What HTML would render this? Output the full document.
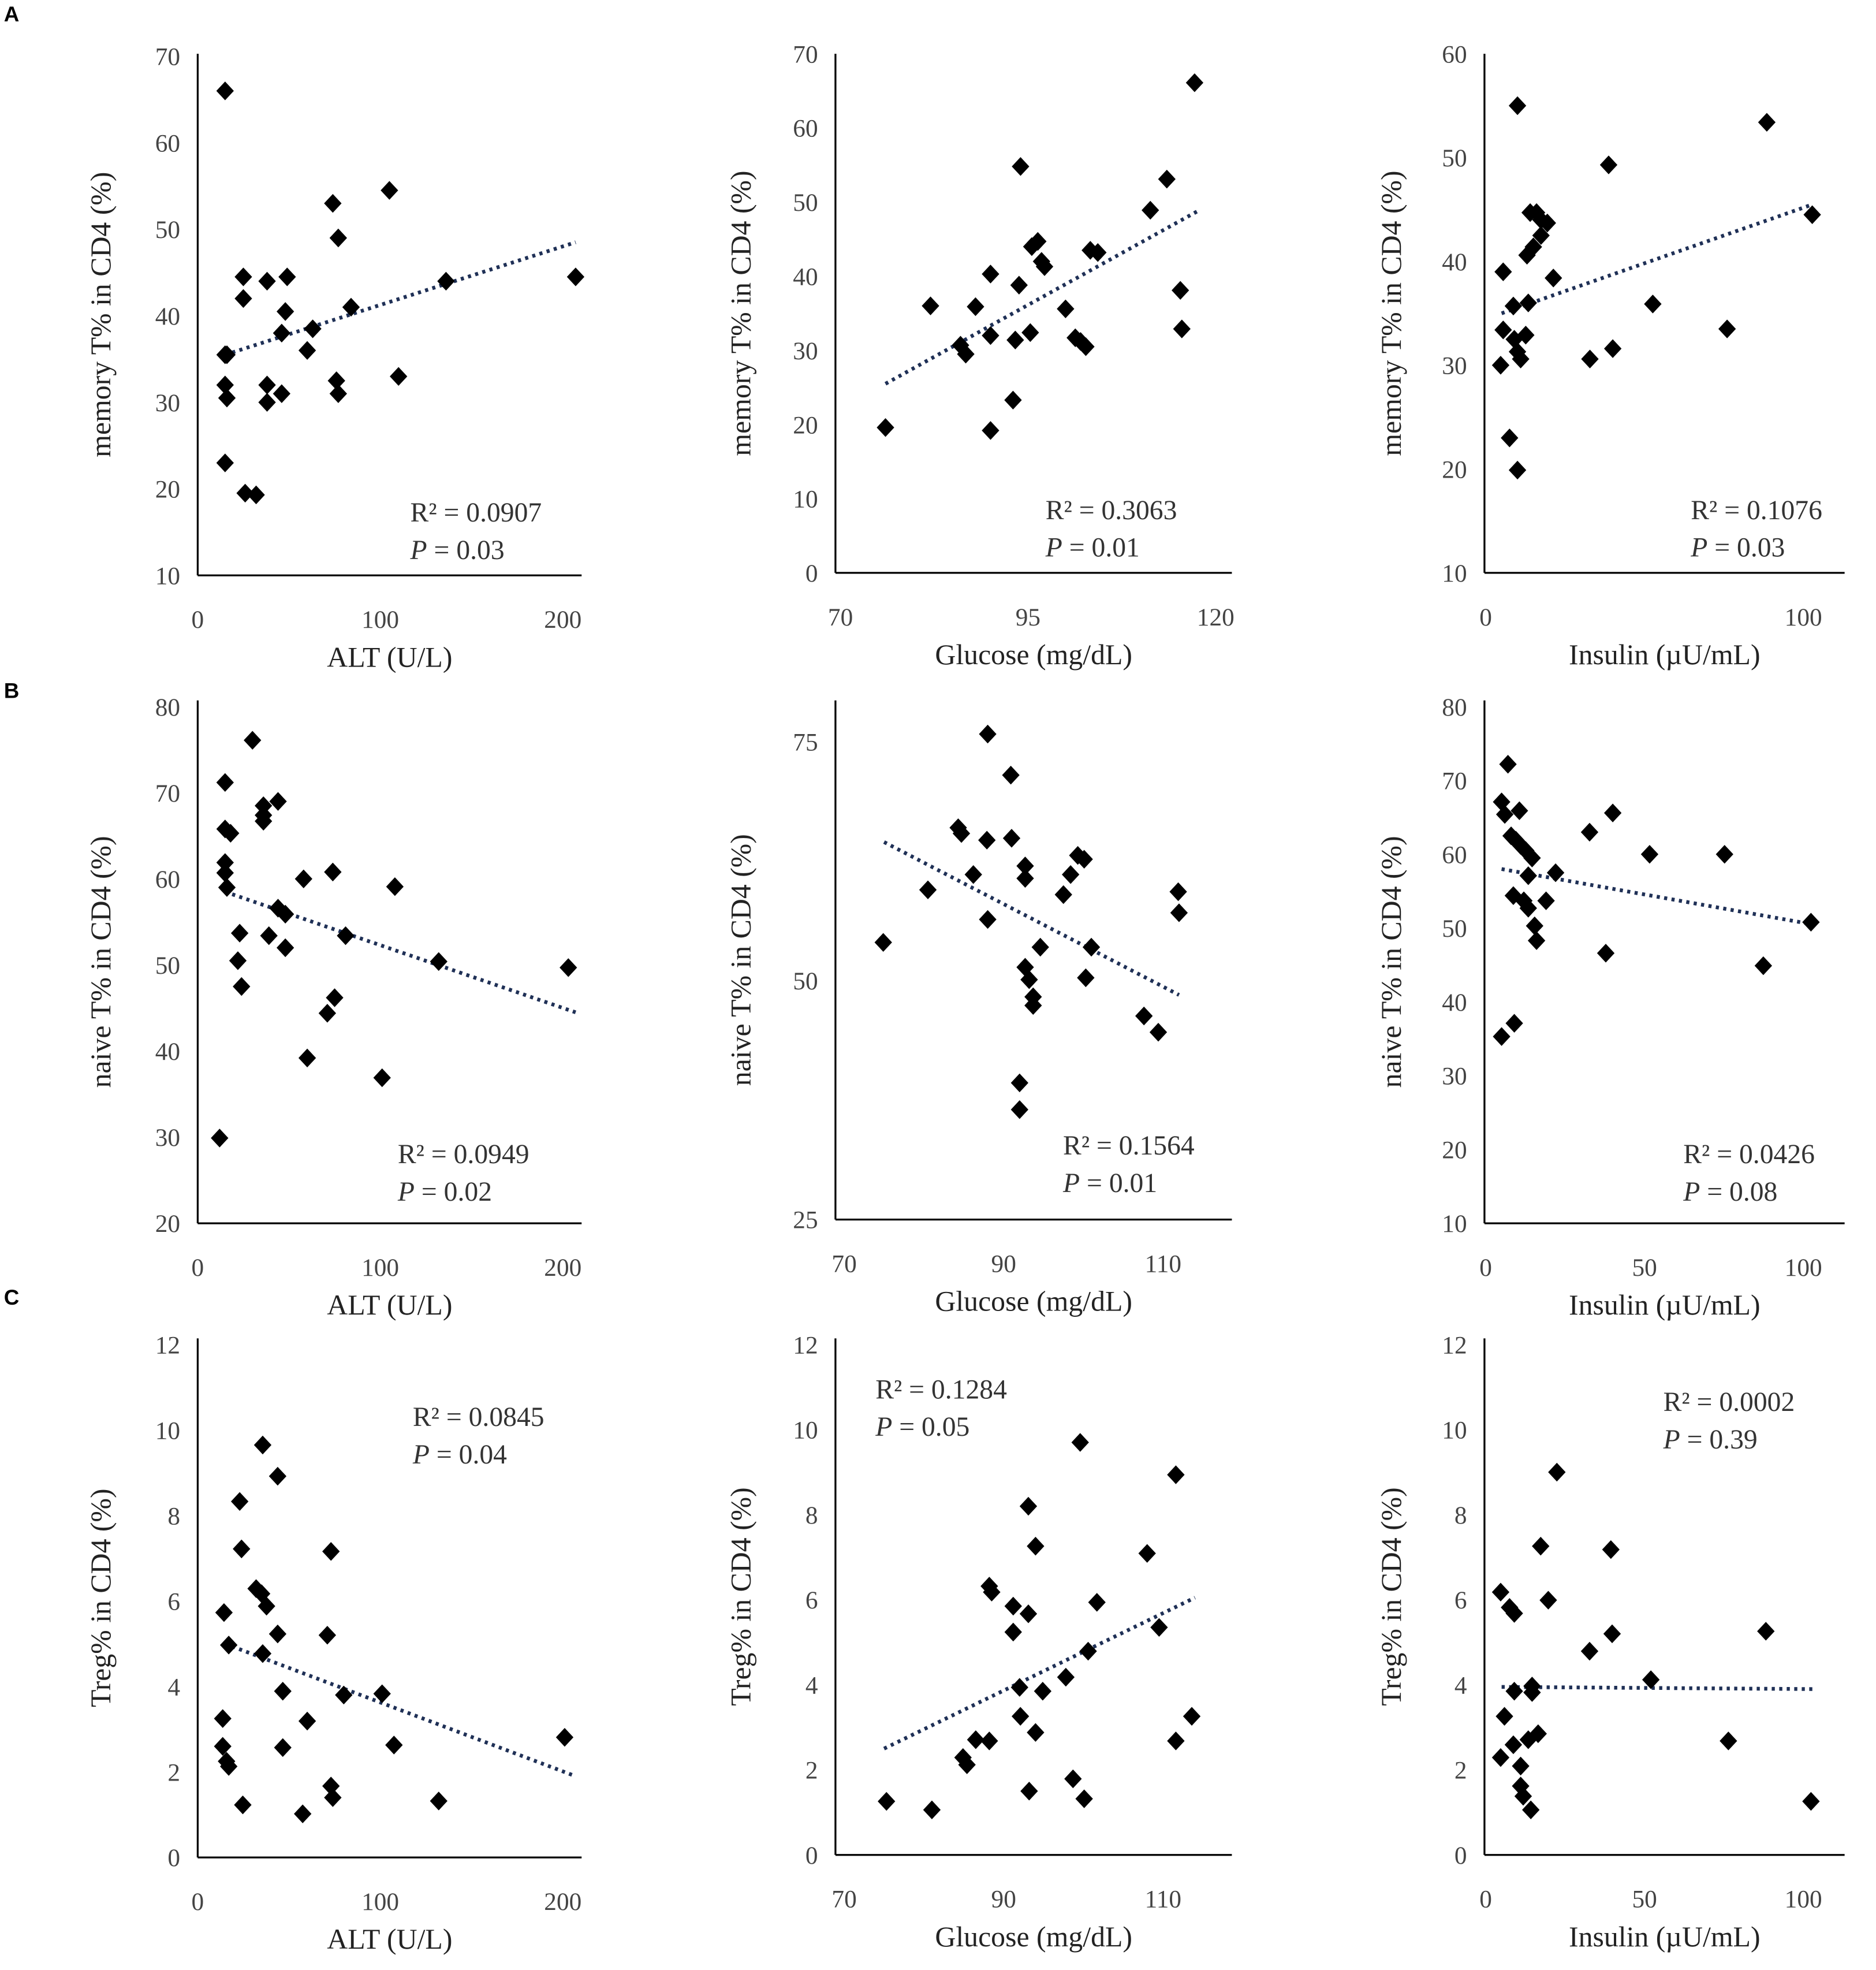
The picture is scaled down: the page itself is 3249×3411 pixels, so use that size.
<!DOCTYPE html>
<html><head><meta charset="utf-8"><style>
html,body{margin:0;padding:0;background:#fff}
svg{display:block}
text{font-family:"Liberation Serif",serif;fill:#222}
.tick{font-size:20px;fill:#444}
.title{font-size:23px}
.ann{font-size:22px;fill:#333}
.lab{font-family:"Liberation Sans",sans-serif;font-weight:bold;font-size:17px;fill:#000}
</style></head><body>
<svg id="fig" width="3249" height="3411" viewBox="0 0 1500 1575" xmlns="http://www.w3.org/2000/svg">
<text class="lab" x="3" y="17">A</text>
<text class="lab" x="3" y="558">B</text>
<text class="lab" x="3" y="1043">C</text>
</svg>
<script>
// data per panel
const a1X=[15,15,16,15,16,15,25,25,26,32,38,38,38,46,49,48,46,60,63,74,77,76,77,84,105,110,136,207];
const a1Y=[66,35.5,35.5,32,30.5,23,42,44.5,19.5,19.3,44,32,30,31,44.5,40.5,38,36,38.5,53,49,32.5,31,41,54.5,33,44,44.5];
const a2X=[76,82,86,86.7,88,90,90,90,93,93.3,93.8,94,95.3,95.5,96.3,96.8,97.2,100,101.3,102,102.7,103.3,104.3,111.3,113.5,115.3,115.5,117.2];
const a2Y=[19.6,36,30.7,29.5,35.9,40.3,32,19.2,23.3,31.4,38.8,54.8,32.4,44,44.7,42,41.3,35.6,31.7,31.2,30.5,43.5,43.2,48.9,53.1,38.1,32.9,66.1];
const a3X=[10,5.5,5.5,4.7,7.5,10,8.7,9,10,11,12.6,13.4,13,15,14,16,17.4,17.4,19.4,21.3,32.8,38.7,40,52.6,76,88.5,102.8];
const a3Y=[55,39,33.4,30,23,19.9,35.7,32.5,31.3,30.6,32.9,36,40.6,41.4,44.7,44.7,42.5,44,43.7,38.4,30.6,49.3,31.6,35.9,33.5,53.4,44.5];
const b1X=[12,15,15,18,15,15,16,30,23,22,24,36,36,36,44,44,48,48,39,58,60,74,75,71,81,101,108,132,203];
const b1Y=[29.9,71.2,65.8,65.3,61.9,60.7,59,76.1,53.7,50.5,47.5,68.5,67.4,66.7,69,56.6,55.9,52,53.4,60,39.2,60.8,46.2,44.4,53.4,36.9,59.1,50.4,49.7];
const b2X=[74.9,80.5,84.3,84.7,86.2,88,87.9,88,90.9,91,92.7,92.7,92,92,92.7,93.2,93.7,93.7,94.6,97.5,98.4,99.3,100.1,100.3,101,107.6,109.4,111.9,112];
const b2Y=[54,59.5,66,65.4,61.1,75.8,64.7,56.4,71.5,64.9,62,60.7,39.3,36.5,51.4,50.1,48.3,47.4,53.5,59,61.1,63.1,62.7,50.3,53.5,46.3,44.6,59.3,57.1];
const b3X=[7,5,6,10.6,8,9.5,11,12.6,14.6,13.4,8.7,12,13.4,15.4,16,19,22,5,9,32.7,40,37.8,51.6,75.2,87.4,102.4];
const b3Y=[72.2,67.1,65.4,65.9,62.5,61.9,61.2,60.5,59.5,57.1,54.4,53.7,52.7,50.3,48.3,53.7,57.5,35.3,37.1,63,65.6,46.6,60,60,44.9,50.8];
const c1X=[14.4,17,13.7,13.7,15.8,17,23,24,24.7,32,35,37.7,35.6,35.6,43.8,43.8,46.6,46.6,57.5,60,71,73,73,74,80,101,107.5,132,201];
const c1Y=[5.73,4.97,3.25,2.6,2.25,2.13,8.33,7.22,1.23,6.29,6.17,5.88,4.77,9.65,8.92,5.23,3.89,2.57,1.02,3.19,5.2,7.16,1.67,1.4,3.8,3.83,2.63,1.32,2.81];
const c2X=[75.3,81,84.9,85.4,86.5,88.2,88.2,88.5,91.2,91.2,92,92.1,93.1,93.1,93.2,94,94,94.9,97.8,98.7,99.6,100.1,100.6,101.7,108,109.5,111.6,111.6,113.6];
const c2Y=[1.26,1.06,2.29,2.12,2.71,2.68,6.32,6.18,5.85,5.24,3.94,3.26,8.2,5.67,1.5,7.26,2.88,3.85,4.18,1.79,9.7,1.32,4.79,5.94,7.09,5.35,8.94,2.68,3.26];
const c3X=[4.7,7.5,9,5.9,4.7,9,8.7,11,11,11.8,14.2,13.4,14.6,14.6,16.5,17.3,19.7,22.4,32.7,39.4,39.8,52,76.4,88.2,102.4];
const c3Y=[6.18,5.82,5.68,3.26,2.29,3.85,2.59,2.09,1.62,1.38,1.06,2.71,3.82,3.97,2.85,7.26,5.99,9,4.79,7.18,5.2,4.12,2.68,5.26,1.26];
const trendA1=[15,35.5,207,48.5], trendA2=[76,25.5,118,49], trendA3=[5,35,103,45.5];
const trendB1=[15,58.5,207,44.5], trendB2=[75,64.5,112,48.5], trendB3=[5,58,103,50.5];
const trendC1=[15,5.0,207,1.9], trendC2=[75,2.5,114,6.05], trendC3=[5,3.95,103,3.9];
const ticksA1X=[0,100,200], ticksA1Y=[10,20,30,40,50,60,70];
const ticksA2X=[70,95,120], ticksA2Y=[0,10,20,30,40,50,60,70];
const ticksA3X=[0,100], ticksA3Y=[10,20,30,40,50,60];
const ticksB1X=[0,100,200], ticksB1Y=[20,30,40,50,60,70,80];
const ticksB2X=[70,90,110], ticksB2Y=[25,50,75];
const ticksB3X=[0,50,100], ticksB3Y=[10,20,30,40,50,60,70,80];
const ticksCY=[0,2,4,6,8,10,12];
const ticksC1X=[0,100,200], ticksC2X=[70,90,110], ticksC3X=[0,50,100];
const yTitleA='memory T% in CD4 (%)', yTitleB='naive T% in CD4 (%)', yTitleC='Treg% in CD4 (%)';
const xAlt='ALT (U/L)', xGlu='Glucose (mg/dL)', xIns='Insulin (\u00b5U/mL)';
const r2=['0.0907','0.3063','0.1076','0.0949','0.1564','0.0426','0.0845','0.1284','0.0002'];
const pv=['0.03','0.01','0.03','0.02','0.01','0.08','0.04','0.05','0.39'];

const NS='http://www.w3.org/2000/svg';
const svg=document.getElementById('fig');
function mk(tag,attrs,parent){const e=document.createElementNS(NS,tag);for(const k in attrs)e.setAttribute(k,attrs[k]);(parent||svg).appendChild(e);return e;}
function panel(id,xs,ys,trend,xt,yt,xm,ym,ax,yTitle,xTitle,ytx,ann,idx){
  const g=mk('g',{});
  
  
  const sx=v=>xm[1]+(v-xm[0])*(xm[3]-xm[1])/(xm[2]-xm[0]);
  const sy=v=>ym[1]+(v-ym[0])*(ym[3]-ym[1])/(ym[2]-ym[0]);
  const yl=mk('line',{x1:ax[0],y1:ax[2],x2:ax[0],y2:ax[3],stroke:'#000','stroke-width':1.5},g);
  
  
  const xl=mk('line',{x1:ax[0],y1:ax[3],x2:ax[1],y2:ax[3],stroke:'#000','stroke-width':1.5},g);
  
  
  xt.forEach(v=>{const t=mk('text',{x:sx(v),y:ax[3]+42,'text-anchor':'middle',class:'tick'},g);t.textContent=v;
    
    });
  yt.forEach(v=>{const t=mk('text',{x:ax[0]-14,y:sy(v)+7,'text-anchor':'end',class:'tick'},g);t.textContent=v;
    
    });
  const cy=(ax[2]+ax[3])/2;
  const yt2=mk('text',{x:0,y:0,'text-anchor':'middle',class:'title',transform:`translate(${ytx},${cy}) rotate(-90)`},g);
  yt2.textContent=yTitle;
  
  
  const xt2=mk('text',{x:(ax[0]+ax[1])/2,y:ax[3]+73,'text-anchor':'middle',class:'title'},g);
  xt2.textContent=xTitle;
  
  
  const tl=mk('line',{x1:sx(trend[0]),y1:sy(trend[1]),x2:sx(trend[2]),y2:sy(trend[3]),stroke:'#1f3056','stroke-width':3,'stroke-dasharray':'2.5,3.5'},g);
  
  
  xs.forEach((v,i)=>{const px=sx(v),py=sy(ys[i]);
    const p=mk('polygon',{points:`${px},${py-7.5} ${px+7},${py} ${px},${py+7.5} ${px-7},${py}`,fill:'#000'},g);
    
    });
  const a=mk('text',{x:ann[0],y:ann[1],class:'ann'},g);
  a.textContent='R\u00b2 = '+r2[idx];
  
  
  const b=mk('text',{x:ann[0],y:ann[1]+30,class:'ann'},g);
  b.innerHTML='<tspan font-style="italic">P</tspan> = '+pv[idx];
  
  
}
panel('a1',a1X,a1Y,trendA1,ticksA1X,ticksA1Y,[0,158,200,450],[70,45,10,460],[158,465,43,460],yTitleA,xAlt,88,[328,417],0);
panel('a2',a2X,a2Y,trendA2,ticksA2X,ticksA2Y,[70,672,120,972],[70,43,0,458],[668,985,43,458],yTitleA,xGlu,600,[836,415],1);
panel('a3',a3X,a3Y,trendA3,ticksA3X,ticksA3Y,[0,1188,100,1442],[60,43,10,458],[1187,1475,43,458],yTitleA,xIns,1120,[1352,415],2);
panel('b1',b1X,b1Y,trendB1,ticksB1X,ticksB1Y,[0,158,200,450],[80,565,20,978],[158,465,560,978],yTitleB,xAlt,88,[318,930],3);
panel('b2',b2X,b2Y,trendB2,ticksB2X,ticksB2Y,[70,675,110,930],[75,593,25,975],[668,985,560,975],yTitleB,xGlu,600,[850,923],4);
panel('b3',b3X,b3Y,trendB3,ticksB3X,ticksB3Y,[0,1188,100,1442],[80,565,10,978],[1187,1475,560,978],yTitleB,xIns,1120,[1346,930],5);
panel('c1',c1X,c1Y,trendC1,ticksC1X,ticksCY,[0,158,200,450],[12,1075,0,1485],[158,465,1070,1485],yTitleC,xAlt,88,[330,1140],6);
panel('c2',c2X,c2Y,trendC2,ticksC2X,ticksCY,[70,675,110,930],[12,1075,0,1483],[668,985,1070,1483],yTitleC,xGlu,600,[700,1118],7);
panel('c3',c3X,c3Y,trendC3,ticksC3X,ticksCY,[0,1188,100,1442],[12,1075,0,1483],[1187,1475,1070,1483],yTitleC,xIns,1120,[1330,1128],8);
</script>
</body></html>
